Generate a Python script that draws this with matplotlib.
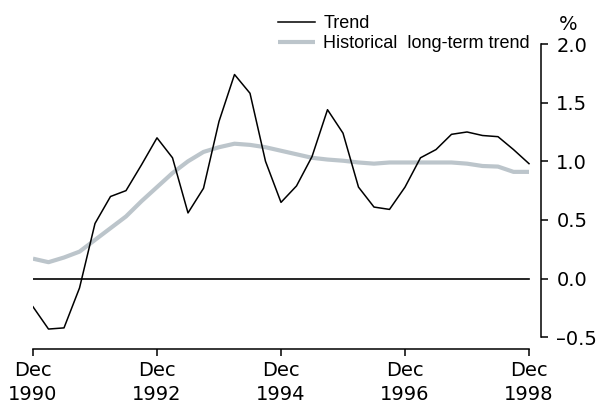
import matplotlib
matplotlib.use('Agg')
import matplotlib.pyplot as plt

# datos trimestrales, Dec 1990 a Dec 1998
trend = [-0.24, -0.43, -0.42, -0.08, 0.47, 0.70, 0.75, 0.97, 1.20, 1.03,
         0.56, 0.77, 1.34, 1.74, 1.58, 1.00, 0.65, 0.79, 1.04, 1.44,
         1.24, 0.78, 0.61, 0.59, 0.78, 1.03, 1.10, 1.23, 1.25, 1.22,
         1.21, 1.10, 0.98]
historical = [0.17, 0.14, 0.18, 0.23, 0.33, 0.43, 0.53, 0.66, 0.78, 0.90,
              1.00, 1.08, 1.12, 1.15, 1.14, 1.12, 1.09, 1.06, 1.03, 1.015,
              1.005, 0.99, 0.98, 0.99, 0.99, 0.99, 0.99, 0.99, 0.98, 0.96,
              0.955, 0.91, 0.91]
quarters = list(range(len(trend)))
xtick_pos = [0, 8, 16, 24, 32]
xtick_labels = ['Dec\n1990', 'Dec\n1992', 'Dec\n1994', 'Dec\n1996', 'Dec\n1998']
ytick_pos = [-0.5, 0.0, 0.5, 1.0, 1.5, 2.0]
ytick_labels = ['\u20130.5', '0.0', '0.5', '1.0', '1.5', '2.0']

plt.rcParams['font.family'] = ['DejaVu Sans']
plt.rcParams['font.size'] = 14

fig = plt.figure(figsize=(6, 4.03), dpi=100)
W, H = 600, 403
ax = fig.add_axes([33 / W, (H - 349) / H, (541 - 33) / W, (349 - 44) / H])

ax.plot(quarters, historical, color='#bcc5cb', lw=3, label='Historical  long-term trend',
        solid_capstyle='butt')
ax.plot(quarters, trend, color='black', lw=1.1, label='Trend')
ax.plot([0, 32], [0, 0], color='black', lw=1.2)

ax.set_xlim(0, 32 * (541 - 33) / (529 - 33))
ax.set_ylim(-0.6, 2.0)

ax.spines['top'].set_visible(False)
ax.spines['left'].set_visible(False)
ax.spines['right'].set_bounds(-0.5, 2.0)
ax.spines['bottom'].set_bounds(0, 32)
for s in ('right', 'bottom'):
    ax.spines[s].set_linewidth(1.1)

ax.yaxis.tick_right()
ax.set_yticks(ytick_pos)
ax.set_yticklabels(ytick_labels)
ax.tick_params(axis='y', direction='out', length=5, width=1.1, pad=6)
ax.set_xticks(xtick_pos)
ax.set_xticklabels(xtick_labels, linespacing=1.3)
ax.tick_params(axis='x', direction='out', length=5, width=1.1, pad=4)

fig.text(568 / W, (H - 24) / H, '%', ha='center', va='center')

handles, labels = ax.get_legend_handles_labels()
ax.legend(handles[::-1], labels[::-1], frameon=False, loc='upper left',
          prop={'family': 'Liberation Sans', 'size': 13},
          bbox_to_anchor=(278 / W, (H - 15) / H), bbox_transform=fig.transFigure,
          handlelength=2.05, handletextpad=0.45, labelspacing=0.18, borderpad=0,
          borderaxespad=0)

fig.savefig('out.png', dpi=100)
